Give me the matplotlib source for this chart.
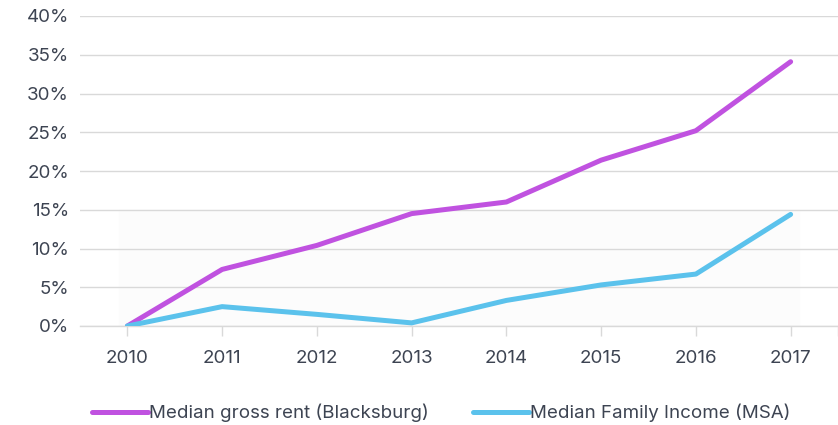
import numpy as np
import matplotlib.pyplot as plt
from matplotlib.ticker import FuncFormatter

# valores (% de variação desde 2010)
anos = ['2010', '2011', '2012', '2013', '2014', '2015', '2016', '2017']
aluguel = [0.0, 7.3, 10.4, 14.5, 16.0, 21.4, 25.2, 34.1]
renda = [0.0, 2.5, 1.5, 0.4, 3.3, 5.3, 6.7, 14.4]

cor_texto = '#3d4452'
roxo = '#c052e0'
azul = '#5bc2ec'

plt.rcParams['font.family'] = ['Inter', 'DejaVu Sans']

fig = plt.figure(figsize=(8.38, 4.25), dpi=100)
ax = fig.add_axes([80 / 838, 1 - 326 / 425, 758 / 838, 310 / 425])

x = np.arange(len(anos))

# fundo bem claro na parte de baixo, como no original
ax.axhspan(0, 15, xmin=(119 - 80) / 758, xmax=(799 - 80) / 758, color='#fcfcfc', zorder=0)

ax.plot(x, aluguel, color=roxo, lw=3.6, solid_capstyle='round', label='Median gross rent (Blacksburg)', zorder=3)
ax.plot(x, renda, color=azul, lw=3.6, solid_capstyle='round', label='Median Family Income (MSA)', zorder=3)

ax.set_xlim(-0.5, len(anos) - 0.5)
ax.set_ylim(0, 40)
ax.set_yticks(np.arange(0, 41, 5))
ax.yaxis.set_major_formatter(FuncFormatter(lambda v, p: f'{int(v)}%'))
ax.set_xticks(x)
ax.set_xticklabels(anos)
ax.set_xticks([len(anos) - 0.5], minor=True)

ax.grid(axis='y', color='#d9d9d9', lw=1)
ax.set_axisbelow(True)
for lado in ['top', 'right', 'left']:
    ax.spines[lado].set_visible(False)
ax.spines['bottom'].set_color('#d9d9d9')
ax.spines['bottom'].set_linewidth(1)

ax.tick_params(axis='y', length=0, pad=8, labelsize=13.5, labelcolor=cor_texto)
ax.tick_params(axis='x', which='both', length=7, width=1, color='#d9d9d9', pad=10,
               labelsize=13.5, labelcolor=cor_texto)

leg = fig.legend(loc='center left', bbox_to_anchor=(92 / 838, 12 / 425), ncol=2, frameon=False,
                 fontsize=13.5, handlelength=3.0, handletextpad=0.05, columnspacing=2.35,
                 borderpad=0, borderaxespad=0)
for t in leg.get_texts():
    t.set_color(cor_texto)

fig.savefig('out.png', dpi=100)
